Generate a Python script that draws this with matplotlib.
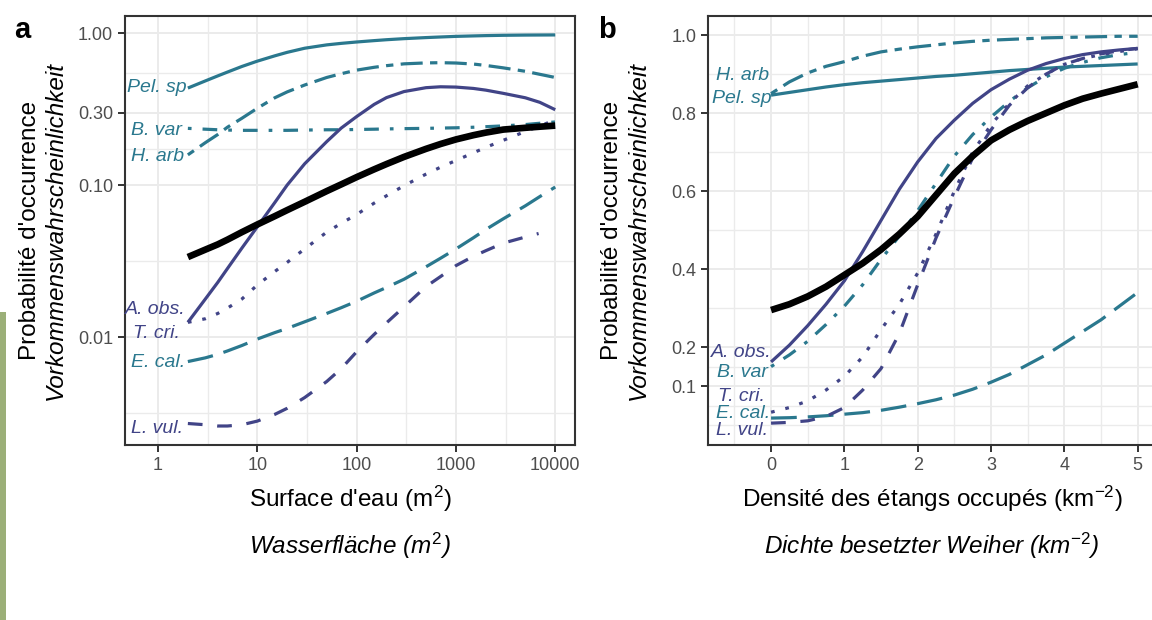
import matplotlib
matplotlib.use("Agg")
import matplotlib.pyplot as plt
from matplotlib.patches import Rectangle

plt.rcParams['font.family'] = ['Liberation Sans', 'DejaVu Sans']
plt.rcParams['mathtext.fontset'] = 'custom'
plt.rcParams['mathtext.rm'] = 'Liberation Sans'
plt.rcParams['mathtext.it'] = 'Liberation Sans:italic'
plt.rcParams['mathtext.bf'] = 'Liberation Sans:bold'

PURPLE = '#414487'
TEAL = '#2A788E'

# ---------------- Panel a: water surface (log x, log y) ----------------
area = [2, 3, 4, 5, 7, 10, 15, 20, 30, 50, 70, 100, 150, 200, 300, 500, 700,
        1000, 1500, 2000, 3000, 5000, 7000, 10000]
area_lvul = [2, 3, 4, 5, 7, 10, 15, 20, 30, 50, 70, 100, 150, 200, 300, 500, 700,
             1000, 1500, 2000, 3000, 5000, 6800]
a_pel = [0.4345, 0.4842, 0.5224, 0.5534, 0.6026, 0.6531, 0.7079, 0.7464, 0.7943, 0.8356,
         0.855, 0.873, 0.8913, 0.9036, 0.9183, 0.9333, 0.9419, 0.9506, 0.9572, 0.9616,
         0.9661, 0.9694, 0.9705, 0.9716]
a_harb = [0.158, 0.19, 0.215, 0.24, 0.275, 0.32, 0.375, 0.41, 0.455, 0.51, 0.54, 0.57,
          0.595, 0.61, 0.627, 0.636, 0.638, 0.635, 0.625, 0.612, 0.59, 0.56, 0.535, 0.51]
a_bvar = [0.236, 0.233, 0.231, 0.23, 0.229, 0.229, 0.229, 0.229, 0.23, 0.231, 0.231, 0.232,
          0.233, 0.234, 0.235, 0.236, 0.237, 0.238, 0.24, 0.242, 0.245, 0.25, 0.255, 0.26]
a_ecal = [0.0069, 0.0073, 0.0077, 0.0081, 0.0088, 0.0097, 0.0107, 0.0114, 0.0126, 0.0143,
          0.0156, 0.0172, 0.0195, 0.0212, 0.024, 0.029, 0.033, 0.038, 0.045, 0.051, 0.060,
          0.073, 0.084, 0.097]
a_aobs = [0.0125, 0.0178, 0.0229, 0.0282, 0.0385, 0.0531, 0.0767, 0.10, 0.138, 0.193, 0.237,
          0.282, 0.339, 0.376, 0.412, 0.437, 0.443, 0.441, 0.432, 0.421, 0.401, 0.375, 0.35, 0.313]
a_tcri = [0.0125, 0.0132, 0.0143, 0.0155, 0.0178, 0.022, 0.027, 0.031, 0.038, 0.049, 0.056,
          0.064, 0.076, 0.085, 0.099, 0.118, 0.131, 0.145, 0.163, 0.177, 0.197, 0.225, 0.245, 0.268]
a_lvul = [0.0027, 0.00265, 0.0026, 0.0026, 0.00265, 0.0028, 0.0031, 0.0034, 0.004, 0.0051,
          0.0062, 0.008, 0.0104, 0.0124, 0.0158, 0.0215, 0.025, 0.0295, 0.034, 0.037, 0.0415,
          0.0455, 0.048]
a_mean = [0.0336, 0.0376, 0.0407, 0.0437, 0.049, 0.055, 0.0624, 0.0684, 0.0776, 0.0912,
          0.101, 0.1127, 0.1268, 0.1374, 0.1531, 0.173, 0.1862, 0.1995, 0.2128, 0.2213,
          0.2317, 0.238, 0.242, 0.246]

a_xticks = [1, 10, 100, 1000, 10000]
a_xticklabels = ['1', '10', '100', '1000', '10000']
a_yticks = [1.0, 0.3, 0.1, 0.01]
a_yticklabels = ['1.00', '0.30', '0.10', '0.01']

# ---------------- Panel b: density of occupied ponds ----------------
dens = [0, 0.25, 0.5, 0.75, 1, 1.25, 1.5, 1.75, 2, 2.25, 2.5, 2.75, 3, 3.25, 3.5, 3.75,
        4, 4.25, 4.5, 4.75, 5]
b_pel = [0.846, 0.853, 0.86, 0.867, 0.873, 0.878, 0.882, 0.886, 0.89, 0.894, 0.897, 0.901,
         0.905, 0.909, 0.912, 0.915, 0.918, 0.92, 0.922, 0.924, 0.926]
b_harb = [0.85, 0.88, 0.903, 0.92, 0.932, 0.946, 0.957, 0.964, 0.97, 0.975, 0.98, 0.984,
          0.987, 0.989, 0.991, 0.993, 0.994, 0.995, 0.996, 0.997, 0.997]
b_bvar = [0.15, 0.18, 0.215, 0.258, 0.305, 0.36, 0.425, 0.485, 0.55, 0.62, 0.69, 0.745,
          0.79, 0.83, 0.865, 0.893, 0.915, 0.93, 0.942, 0.95, 0.956]
b_ecal = [0.018, 0.019, 0.021, 0.024, 0.028, 0.032, 0.038, 0.046, 0.055, 0.065, 0.077,
          0.092, 0.11, 0.13, 0.155, 0.18, 0.21, 0.24, 0.27, 0.305, 0.34]
b_aobs = [0.162, 0.205, 0.255, 0.31, 0.37, 0.445, 0.525, 0.605, 0.675, 0.735, 0.782,
          0.825, 0.86, 0.887, 0.91, 0.927, 0.94, 0.95, 0.957, 0.962, 0.966]
b_tcri = [0.033, 0.045, 0.062, 0.09, 0.125, 0.175, 0.245, 0.31, 0.39, 0.49, 0.60, 0.70,
          0.77, 0.825, 0.87, 0.9, 0.925, 0.94, 0.95, 0.958, 0.965]
b_lvul = [0.005, 0.007, 0.011, 0.022, 0.045, 0.09, 0.145, 0.235, 0.36, 0.48, 0.585, 0.685,
          0.757, 0.82, 0.865, 0.9, 0.925, 0.94, 0.952, 0.96, 0.966]
b_mean = [0.295, 0.31, 0.33, 0.355, 0.385, 0.415, 0.45, 0.49, 0.535, 0.59, 0.645, 0.69,
          0.73, 0.757, 0.78, 0.80, 0.82, 0.837, 0.85, 0.862, 0.874]

b_xticks = [0, 1, 2, 3, 4, 5]
b_yticks = [0.1, 0.2, 0.4, 0.6, 0.8, 1.0]
b_yticklabels = ['0.1', '0.2', '0.4', '0.6', '0.8', '1.0']

# ggplot-like line types (in units of line width)
U = 1.15
LT = {
    'solid': None,
    'dashed': (4 * U, 4 * U),
    'dotted': (1 * U, 3 * U),
    'dotdash': (1 * U, 3 * U, 4 * U, 3 * U),
    'longdash': (7 * U, 3 * U),
    'twodash': (2 * U, 2 * U, 6 * U, 2 * U),
}

W, H = 1152, 620
fig = plt.figure(figsize=(W / 100, H / 100), dpi=100)


def fx(x):
    return x / W


def fy(y):
    return 1 - y / H


fig.patches.append(Rectangle((0, 0), fx(6), fy(312), transform=fig.transFigure,
                             facecolor='#9BAF78', edgecolor='none'))

ax_a = fig.add_axes([fx(125), fy(445), fx(450), (445 - 16) / H])
ax_b = fig.add_axes([fx(708), fy(445), fx(448), (445 - 16) / H])

SP_LW = 2.3
MEAN_LW = 4.8


def draw(ax, x, y, color, lt, lw=SP_LW, z=3):
    line, = ax.plot(x, y, color=color, lw=lw, zorder=z,
                    solid_capstyle='butt', dash_capstyle='butt',
                    solid_joinstyle='round')
    if LT[lt] is not None:
        line.set_dashes(LT[lt])
    return line


# Panel a
draw(ax_a, area, a_pel, TEAL, 'solid')
draw(ax_a, area, a_harb, TEAL, 'twodash')
draw(ax_a, area, a_bvar, TEAL, 'dotdash')
draw(ax_a, area, a_ecal, TEAL, 'longdash')
draw(ax_a, area, a_aobs, PURPLE, 'solid')
draw(ax_a, area, a_tcri, PURPLE, 'dotted')
draw(ax_a, area_lvul, a_lvul, PURPLE, 'dashed')
draw(ax_a, area, a_mean, 'black', 'solid', lw=MEAN_LW, z=4)

# Panel b
draw(ax_b, dens, b_pel, TEAL, 'solid')
draw(ax_b, dens, b_harb, TEAL, 'twodash')
draw(ax_b, dens, b_bvar, TEAL, 'dotdash')
draw(ax_b, dens, b_ecal, TEAL, 'longdash')
draw(ax_b, dens, b_aobs, PURPLE, 'solid')
draw(ax_b, dens, b_tcri, PURPLE, 'dotted')
draw(ax_b, dens, b_lvul, PURPLE, 'dashed')
draw(ax_b, dens, b_mean, 'black', 'solid', lw=MEAN_LW, z=4)

ax_a.set_xscale('log')
ax_a.set_yscale('log')
ax_a.set_xticks(a_xticks, labels=a_xticklabels)
ax_a.set_xticks([10 ** (k + 0.5) for k in range(0, 4)], minor=True)
ax_a.set_yticks(a_yticks, labels=a_yticklabels)
ax_a.set_yticks([10 ** -0.2614, 10 ** -0.7614, 10 ** -1.5, 10 ** -2.5], minor=True)
ax_a.set_xlim(10 ** -0.332, 10 ** 4.199)
ax_a.set_ylim(10 ** -2.71, 10 ** 0.112)

ax_b.set_xticks(b_xticks, labels=[str(v) for v in b_xticks])
ax_b.set_xticks([-0.5, 0.5, 1.5, 2.5, 3.5, 4.5], minor=True)
ax_b.set_yticks(b_yticks, labels=b_yticklabels)
ax_b.set_yticks([0.0, 0.05, 0.15, 0.3, 0.5, 0.7, 0.9], minor=True)
ax_b.set_xlim(-0.86, 5.25)
ax_b.set_ylim(-0.051, 1.049)

# Axes styling
for ax in (ax_a, ax_b):
    ax.set_axisbelow(True)
    for s in ax.spines.values():
        s.set_color('#333333')
        s.set_linewidth(1.5)
    ax.tick_params(which='major', length=5, width=1.4, color='#333333',
                   labelsize=13, labelcolor='#4D4D4D', pad=3.5)
    ax.tick_params(which='minor', length=0)
    ax.grid(which='major', color='#EBEBEB', lw=1.4)
    ax.grid(which='minor', color='#EBEBEB', lw=1.0)

# Species labels (panel a)
lab_kw = dict(fontsize=14, style='italic', ha='right', va='center', zorder=5)
ax_a.text(1.96, 0.435, 'Pel. sp', color=TEAL, **lab_kw)
ax_a.text(1.75, 0.230, 'B. var', color=TEAL, **lab_kw)
ax_a.text(1.83, 0.155, 'H. arb', color=TEAL, **lab_kw)
ax_a.text(1.91, 0.0152, 'A. obs.', color=PURPLE, **lab_kw)
ax_a.text(1.67, 0.0106, 'T. cri.', color=PURPLE, **lab_kw)
ax_a.text(1.87, 0.00685, 'E. cal.', color=TEAL, **lab_kw)
ax_a.text(1.79, 0.00252, 'L. vul.', color=PURPLE, **lab_kw)

# Species labels (panel b)
ax_b.text(-0.03, 0.897, 'H. arb', color=TEAL, **lab_kw)
ax_b.text(0.01, 0.838, 'Pel. sp', color=TEAL, **lab_kw)
ax_b.text(0.01, 0.185, 'A. obs.', color=PURPLE, **lab_kw)
ax_b.text(-0.04, 0.136, 'B. var', color=TEAL, **lab_kw)
ax_b.text(-0.08, 0.074, 'T. cri.', color=PURPLE, **lab_kw)
ax_b.text(-0.01, 0.031, 'E. cal.', color=TEAL, **lab_kw)
ax_b.text(-0.04, -0.013, 'L. vul.', color=PURPLE, **lab_kw)

# Axis titles
TS = 17.5
fig.text(fx(30), fy(230), "Probabilité d'occurrence", rotation=90, ha='center', va='center', fontsize=TS)
fig.text(fx(55.5), fy(230), "Vorkommenswahrscheinlichkeit", rotation=90, ha='center', va='center',
         fontsize=TS, style='italic')
fig.text(fx(612), fy(230), "Probabilité d'occurrence", rotation=90, ha='center', va='center', fontsize=TS)
fig.text(fx(638), fy(230), "Vorkommenswahrscheinlichkeit", rotation=90, ha='center', va='center',
         fontsize=TS, style='italic')

fig.text(fx(350), fy(507), "Surface d'eau (m$^2$)", ha='center', va='baseline', fontsize=TS)
fig.text(fx(350), fy(554), "Wasserfläche ($\\mathit{m}^{2}$)", ha='center', va='baseline',
         fontsize=TS, style='italic')
fig.text(fx(932), fy(507), "Densité des étangs occupés (km$^{-2}$)", ha='center', va='baseline', fontsize=TS)
fig.text(fx(932), fy(554), "Dichte besetzter Weiher ($\\mathit{km}^{-2}$)", ha='center', va='baseline',
         fontsize=TS, style='italic')

# Panel tags
fig.text(fx(14), fy(38), 'a', fontsize=21, fontweight='bold', va='baseline')
fig.text(fx(598), fy(38), 'b', fontsize=21, fontweight='bold', va='baseline')

fig.savefig('out.png', dpi=100)
